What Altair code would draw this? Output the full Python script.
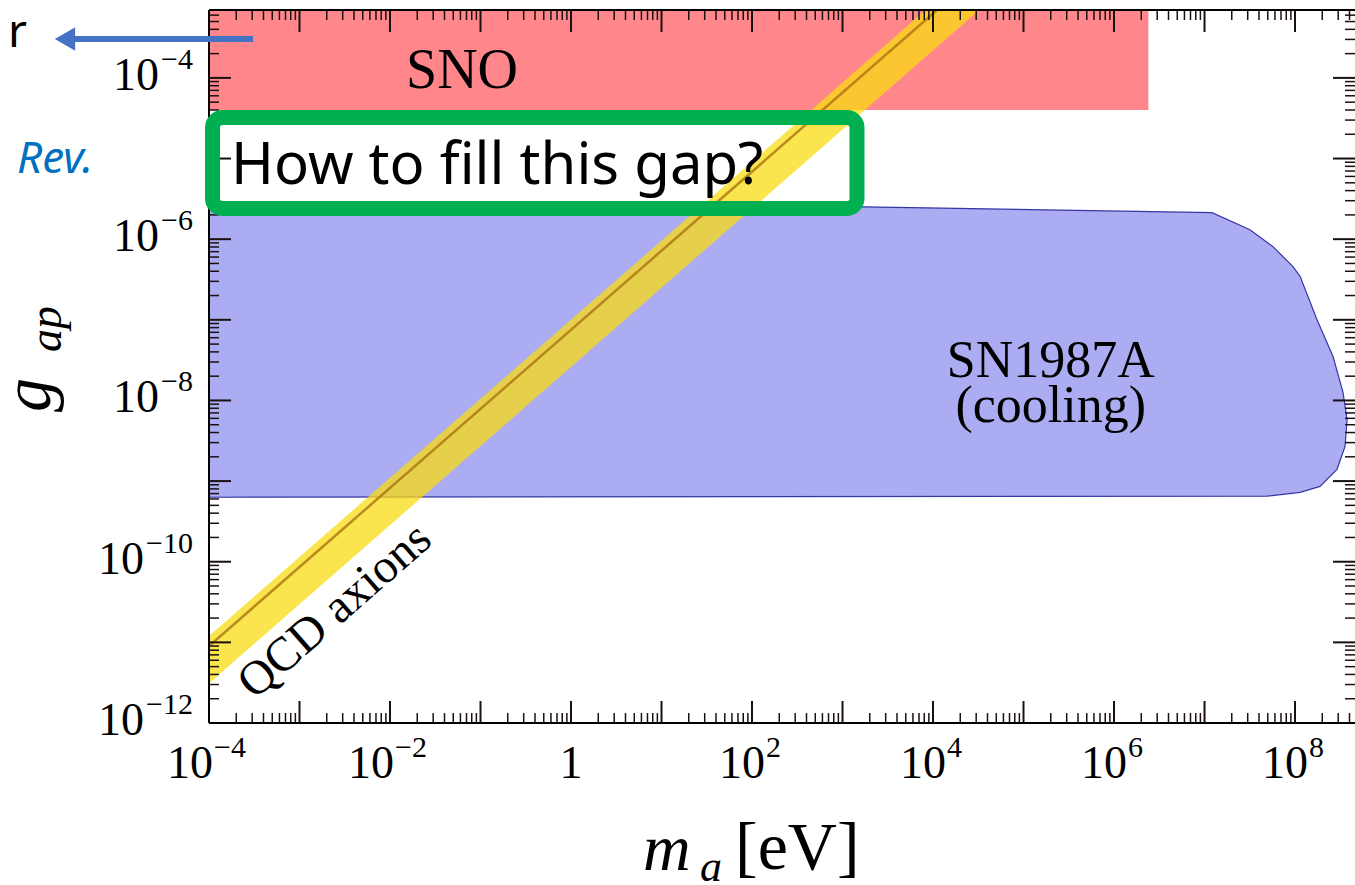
import altair as alt
import pandas as pd

# ---------------- data ----------------
X_MIN, X_MAX = 1e-4, 4.6e8          # m_a [eV]
Y_MIN, Y_MAX = 1e-12, 6.95e-4       # g_ap

# SNO excluded region (rectangle)
sno_m = [1e-4, 2.4e6]
sno_g = [4.0e-5, 1e-3]

# SN1987A cooling region outline (polygon, clockwise)
sn_m = [1e-4, 1.73e3, 1.21e7, 3.18e7, 5.71e7, 9.5e7, 1.14e8, 1.75e8, 2.63e8,
        3.39e8, 3.76e8, 3.57e8, 2.91e8, 1.89e8, 1.14e8, 4.9e7, 1e-4, 1e-4]
sn_g = [2.83e-6, 2.52e-6, 2.13e-6, 1.31e-6, 8.07e-7, 4.56e-7, 3.43e-7, 1.0e-7, 3.5e-8,
        1.26e-8, 5.8e-9, 2.69e-9, 1.40e-9, 8.6e-10, 7.26e-10, 6.5e-10, 6.3e-10, 2.83e-6]

# QCD axion band
qcd_m = [1e-4, 1e5]
qcd_center = [9.0e-12, 6.0e-3]
qcd_upper = [1.2e-11, 8.0e-3]
qcd_lower = [3.1e-12, 2.1e-3]

# tick labels (base and exponent)
x_label_vals = [1e-4, 1e-2, 1, 1e2, 1e4, 1e6, 1e8]
x_label_base = ["10", "10", "1", "10", "10", "10", "10"]
x_label_exp = ["\u22124", "\u22122", "", "2", "4", "6", "8"]
y_label_vals = [1e-12, 1e-10, 1e-8, 1e-6, 1e-4]
y_label_base = ["10", "10", "10", "10", "10"]
y_label_exp = ["\u221212", "\u221210", "\u22128", "\u22126", "\u22124"]

x_decades = list(range(-4, 9))
y_decades = list(range(-12, -3))
x_major = [10.0 ** d for d in x_decades]
x_minor = [k * 10.0 ** d for d in x_decades for k in range(2, 10) if k * 10.0 ** d <= X_MAX]
y_major = [10.0 ** d for d in y_decades]
y_minor = [k * 10.0 ** d for d in y_decades for k in range(2, 10) if k * 10.0 ** d <= Y_MAX]

# ---------------- layout ----------------
W, H = 1146, 713
SERIF = "Liberation Serif"
LAB = 46      # tick label size
EXP = 30      # exponent size

xs = alt.Scale(type="log", domain=[X_MIN, X_MAX], nice=False)
ys = alt.Scale(type="log", domain=[Y_MIN, Y_MAX], nice=False)


def X(f):
    return alt.X(f, type="quantitative", scale=xs, axis=None)


def Y(f):
    return alt.Y(f, type="quantitative", scale=ys, axis=None)


one = pd.DataFrame({"k": [0]})

sno = alt.Chart(pd.DataFrame({"m1": [sno_m[0]], "m2": [sno_m[1]],
                              "g1": [sno_g[0]], "g2": [sno_g[1]]})).mark_rect(
    color="#ff878c", clip=True).encode(x=X("m1"), x2="m2", y=Y("g1"), y2="g2")

sn_df = pd.DataFrame({"m": sn_m, "g": sn_g, "i": list(range(len(sn_m)))})
sn = alt.Chart(sn_df).mark_line(fill="#acacf2", stroke="#3636a6", strokeWidth=1.2,
                                clip=True).encode(x=X("m"), y=Y("g"), order="i:Q")

qdf = pd.DataFrame({"m": qcd_m, "c": qcd_center, "hi": qcd_upper, "lo": qcd_lower})
band = alt.Chart(qdf).mark_area(color="#fadc10", opacity=0.74, clip=True).encode(
    x=X("m"), y=Y("lo"), y2="hi")
cline = alt.Chart(qdf).mark_line(color="#a87410", strokeWidth=2.5, opacity=0.8,
                                 clip=True).encode(x=X("m"), y=Y("c"))

lab_df = pd.DataFrame({"m": [0.0625, 2.0e5, 2.0e5],
                       "g": [7.5e-5, 1.93e-8, 5.35e-9],
                       "t": ["SNO", "SN1987A", "(cooling)"],
                       "s": [56, 52, 52]})
labels = alt.Chart(lab_df).mark_text(font=SERIF, align="center", baseline="alphabetic",
                                     color="black").encode(
    x=X("m"), y=Y("g"), text="t:N",
    size=alt.Size("s:Q", scale=None, legend=None))

qcd_txt = alt.Chart(pd.DataFrame({"m": [2.47e-3], "g": [2.44e-11], "t": ["QCD axions"]})).mark_text(
    font=SERIF, fontSize=48, angle=318.8, align="center", baseline="middle", color="black").encode(
    x=X("m"), y=Y("g"), text="t:N")


def xticks(vals, length, sw):
    df = pd.DataFrame({"v": vals})
    bot = alt.Chart(df).mark_rule(color="#1a1010", strokeWidth=sw).encode(
        x=X("v"), y=alt.value(H), y2=alt.value(H - length))
    top = alt.Chart(df).mark_rule(color="#1a1010", strokeWidth=sw).encode(
        x=X("v"), y=alt.value(0), y2=alt.value(length))
    return [bot, top]


def yticks(vals, length, sw):
    df = pd.DataFrame({"v": vals})
    left = alt.Chart(df).mark_rule(color="#1a1010", strokeWidth=sw).encode(
        y=Y("v"), x=alt.value(0), x2=alt.value(length))
    right = alt.Chart(df).mark_rule(color="#1a1010", strokeWidth=sw).encode(
        y=Y("v"), x=alt.value(W), x2=alt.value(W - length))
    return [left, right]


ticks = (xticks(x_major, 22, 2) + xticks(x_minor, 10, 1.5) +
         yticks(y_major, 22, 2) + yticks(y_minor, 10, 1.5))

frame = [
    alt.Chart(one).mark_rule(color="black", strokeWidth=2).encode(
        x=alt.value(0), x2=alt.value(W), y=alt.value(0)),
    alt.Chart(one).mark_rule(color="black", strokeWidth=2).encode(
        x=alt.value(0), x2=alt.value(W), y=alt.value(H)),
    alt.Chart(one).mark_rule(color="black", strokeWidth=2).encode(
        x=alt.value(0), y=alt.value(0), y2=alt.value(H)),
]

# ---- tick labels: "10" plus raised exponent ----
xl = pd.DataFrame({"v": x_label_vals, "b": x_label_base, "e": x_label_exp})
xl["n"] = xl["e"].str.len()
yl = pd.DataFrame({"v": y_label_vals, "b": y_label_base, "e": y_label_exp})
yl["n"] = yl["e"].str.len()

XB = H + 55   # baseline of x labels


def xlabel_group(n, dx_base):
    d = xl[xl["n"] == n]
    base = alt.Chart(d).mark_text(font=SERIF, fontSize=LAB, align="right",
                                  baseline="alphabetic", dx=dx_base, color="black").encode(
        x=X("v"), y=alt.value(XB), text="b:N")
    ex = alt.Chart(d).mark_text(font=SERIF, fontSize=EXP, align="left",
                                baseline="alphabetic", dx=dx_base + 1, color="black").encode(
        x=X("v"), y=alt.value(XB - 21), text="e:N")
    return [base, ex]


xlabels = xlabel_group(2, 4) + xlabel_group(1, 13) + [
    alt.Chart(xl[xl["n"] == 0]).mark_text(font=SERIF, fontSize=LAB, align="center",
                                          baseline="alphabetic", color="black").encode(
        x=X("v"), y=alt.value(XB), text="b:N")]


def ylabel_group(n, x_base):
    d = yl[yl["n"] == n]
    base = alt.Chart(d).mark_text(font=SERIF, fontSize=LAB, align="right",
                                  baseline="alphabetic", dy=12, color="black").encode(
        x=alt.value(x_base), y=Y("v"), text="b:N")
    ex = alt.Chart(d).mark_text(font=SERIF, fontSize=EXP, align="right",
                                baseline="alphabetic", dy=12 - 21, color="black").encode(
        x=alt.value(-16), y=Y("v"), text="e:N")
    return [base, ex]


ylabels = ylabel_group(2, -50) + ylabel_group(3, -65)

# axis titles
t_m = alt.Chart(one).mark_text(text="m", font=SERIF, fontStyle="italic", fontSize=66,
                               align="left", baseline="alphabetic").encode(
    x=alt.value(434), y=alt.value(860))
t_a = alt.Chart(one).mark_text(text="a", font=SERIF, fontStyle="italic", fontSize=44,
                               align="left", baseline="alphabetic").encode(
    x=alt.value(491), y=alt.value(871))
t_ev = alt.Chart(one).mark_text(text="[eV]", font=SERIF, fontSize=68,
                                align="left", baseline="alphabetic").encode(
    x=alt.value(526), y=alt.value(859))
t_g = alt.Chart(one).mark_text(text="g", font=SERIF, fontStyle="italic", fontSize=68,
                               angle=270, align="left", baseline="alphabetic").encode(
    x=alt.value(-159), y=alt.value(402))
t_ap = alt.Chart(one).mark_text(text="ap", font=SERIF, fontStyle="italic", fontSize=46,
                                angle=270, align="left", baseline="alphabetic").encode(
    x=alt.value(-148), y=alt.value(342))

# slide annotations
gbox = alt.Chart(one).mark_rect(filled=False, stroke="#00b050", strokeWidth=15,
                                cornerRadius=10).encode(
    x=alt.value(3.5), x2=alt.value(648), y=alt.value(107.5), y2=alt.value(198.5))
gtext = alt.Chart(one).mark_text(text="How to fill this gap?", font="Noto Sans", fontSize=58,
                                 align="left", baseline="alphabetic", color="black").encode(
    x=alt.value(22), y=alt.value(174))
r_txt = alt.Chart(one).mark_text(text="r", font="Noto Sans", fontSize=46,
                                 align="right", baseline="alphabetic", color="black").encode(
    x=alt.value(-182), y=alt.value(37))
rev = alt.Chart(one).mark_text(text="Rev.", font="Noto Sans", fontStyle="italic", fontSize=44,
                               align="left", baseline="alphabetic", color="#0070c0").encode(
    x=alt.value(-192), y=alt.value(163))
shaft = alt.Chart(one).mark_rule(color="#4472c4", strokeWidth=6).encode(
    x=alt.value(-134), x2=alt.value(44), y=alt.value(29))
head = alt.Chart(one).mark_point(shape="triangle-left", filled=True, size=550,
                                 color="#4472c4", opacity=1).encode(
    x=alt.value(-144), y=alt.value(29))

layers = ([sno, sn, band, cline, labels, qcd_txt] + ticks + frame +
          [gbox, gtext] + xlabels + ylabels +
          [t_m, t_a, t_ev, t_g, t_ap, r_txt, rev, shaft, head])

chart = alt.layer(*layers).properties(
    width=W, height=H,
    padding={"left": 209, "top": 10, "right": 0, "bottom": 162},
    autosize="none",
).configure_view(stroke=None).configure(background="white")

chart.save("out.html", embed_options={"renderer": "svg", "actions": False})
